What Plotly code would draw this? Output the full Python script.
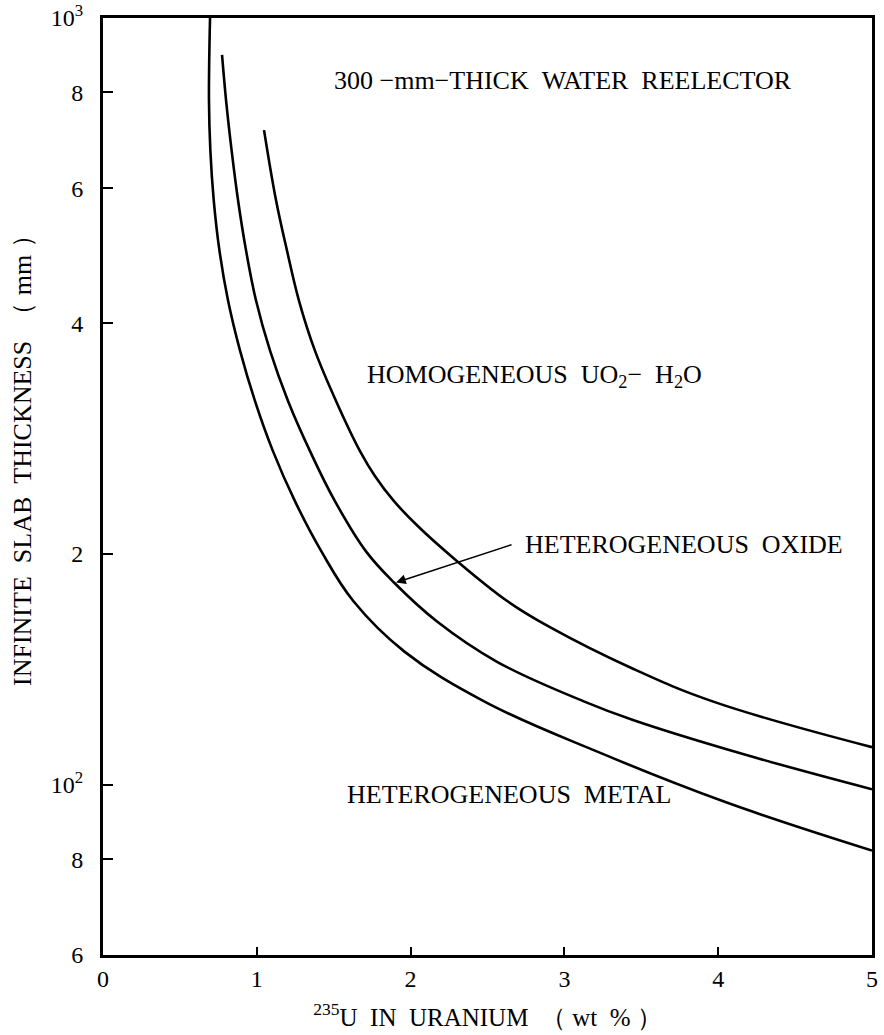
import numpy as np
import plotly.graph_objects as go

# --- data (x: wt% 235U, y: infinite slab thickness in mm) ---
metal_x = [0.696, 0.689, 0.698, 0.720, 0.757, 0.813, 0.891, 0.988, 1.105, 1.248, 1.420, 1.630, 1.960, 2.484, 3.218, 4.051, 5.0]
metal_y = [1000, 781.6, 672.4, 578.5, 497.7, 428.1, 368.3, 316.7, 272.4, 234.4, 201.6, 173.4, 149.2, 128.3, 110.4, 94.9, 82.1]

oxide_x = [0.774, 0.800, 0.836, 0.878, 0.930, 0.995, 1.086, 1.203, 1.346, 1.508, 1.710, 1.892, 2.172, 2.562, 3.134, 3.446, 4.161, 5.0]
oxide_y = [895, 781.6, 672.4, 578.5, 497.7, 428.1, 368.3, 316.7, 272.4, 234.4, 201.6, 183.6, 163.3, 144.7, 128.3, 121.5, 109.7, 98.7]

homog_x = [1.047, 1.125, 1.196, 1.274, 1.378, 1.515, 1.671, 1.769, 1.892, 2.048, 2.289, 2.633, 2.900, 3.446, 3.973, 5.0]
homog_y = [714.2, 578.5, 497.7, 428.1, 368.3, 316.7, 272.4, 252.6, 234.4, 217.4, 196.8, 173.4, 160.8, 141.7, 128.3, 112.0]

x_ticks = [0, 1, 2, 3, 4, 5]
y_tickvals = [60, 80, 100, 200, 400, 600, 800, 1000]
y_ticktext = ["6", "8", "10<sup>2</sup>", "2", "4", "6", "8", "10<sup>3</sup>"]

x_title = "<sup>235</sup>U  IN  URANIUM  （ wt  % ）"
y_title = "INFINITE  SLAB  THICKNESS  （ mm ）"

# in-plot labels (left anchor, data units) and arrow (tip / tail) for the oxide curve
label_texts = ["300 −mm−THICK  WATER  REELECTOR", "HOMOGENEOUS  UO<sub>2</sub>−  H<sub>2</sub>O",
               "HETEROGENEOUS  OXIDE", "HETEROGENEOUS  METAL"]
label_x = [1.489, 1.703, 2.731, 1.573]
label_y = [830, 341.5, 205.9, 97.2]
arrow_tip = (1.905, 183.6)
arrow_tail = (2.666, 206)

FONT = "Liberation Serif"
NB = "\u00a0"

fig = go.Figure()
for xs, ys in [(metal_x, metal_y), (oxide_x, oxide_y), (homog_x, homog_y)]:
    fig.add_trace(go.Scatter(x=xs, y=ys, mode="lines",
                             line=dict(color="black", width=2.6, shape="spline", smoothing=1.1),
                             showlegend=False, hoverinfo="skip"))

fig.update_xaxes(range=[0, 5], tickvals=x_ticks, ticks="inside", ticklen=8, tickwidth=1.5, tickcolor="black",
                 showline=True, linecolor="black", linewidth=3, mirror=True, showgrid=False, zeroline=False,
                 automargin=False, tickfont=dict(family=FONT, size=24, color="black"),
                 title=dict(text=x_title.replace(" ", NB),
                            font=dict(family=FONT, size=25, color="black"), standoff=18))
fig.update_yaxes(type="log", range=[np.log10(60), 3], tickvals=y_tickvals,
                 ticktext=[t + NB + NB for t in y_ticktext],
                 ticks="inside", ticklen=10, tickwidth=1.5, tickcolor="black",
                 showline=True, linecolor="black", linewidth=3, mirror=True, showgrid=False, zeroline=False,
                 automargin=False, tickfont=dict(family=FONT, size=24, color="black"))

# y-axis title as a rotated annotation (sits slightly above the plot centre, as in the reference)
fig.add_annotation(x=-0.105, y=0.535, xref="paper", yref="paper", text=y_title.replace(" ", NB),
                   textangle=-90, showarrow=False, xanchor="center", yanchor="middle",
                   font=dict(family=FONT, size=26, color="black"))

for txt, lx, ly in zip(label_texts, label_x, label_y):
    fig.add_annotation(x=lx, y=np.log10(ly), xref="x", yref="y", text=txt.replace(" ", NB), showarrow=False,
                       xanchor="left", yanchor="middle", font=dict(family=FONT, size=26, color="black"))

fig.add_annotation(x=arrow_tip[0], y=np.log10(arrow_tip[1]), xref="x", yref="y",
                   ax=arrow_tail[0], ay=np.log10(arrow_tail[1]), axref="x", ayref="y",
                   text="", showarrow=True, arrowhead=2, arrowsize=1.3, arrowwidth=1.5, arrowcolor="black")

fig.update_layout(width=884, height=1035, margin=dict(l=103, r=12, t=18, b=80),
                  plot_bgcolor="white", paper_bgcolor="white")
fig.write_html("out.html")
